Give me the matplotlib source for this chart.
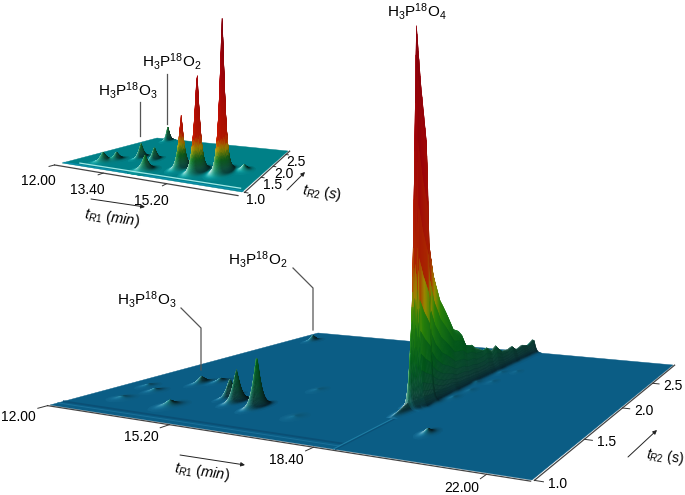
import numpy as np
import matplotlib
matplotlib.use('Agg')
import matplotlib.pyplot as plt
from matplotlib.collections import PolyCollection

plt.rcParams['font.family'] = ['Liberation Sans']
plt.rcParams['mathtext.fontset'] = 'custom'
plt.rcParams['mathtext.rm'] = 'Liberation Sans'
plt.rcParams['mathtext.it'] = 'Liberation Sans:italic'

# main plot peaks: tR1 (min), tR2 (s), height, width in tR1, width in tR2
main_t1 = [13.45, 12.64, 13.75, 14.90, 15.32, 15.97, 14.28, 13.05, 12.56, 12.90, 16.24, 17.14, 20.02,
           19.10, 19.25, 19.05, 19.30, 19.12, 19.40, 19.20, 19.50]
main_t2 = [1.59, 2.71, 1.65, 1.44, 1.38, 1.35, 1.21, 1.38, 1.44, 1.22, 1.71, 1.29, 1.32,
           1.75, 1.85, 1.95, 2.00, 2.15, 2.20, 2.40, 2.45]
main_h = [7, 6, 4, 19, 33, 52, 6, 3, 2, 2, 1, 1, 5, 1.5, 1, 1.5, 0.8, 1, 0.7, 0.8, 0.6]
main_s1 = [.07, .07, .07, .045, .06, .06, .11, .09, .09, .13, .11, .13, .07,
           .08, .08, .08, .08, .08, .08, .08, .08]
main_s2 = [.035, .035, .035, .03, .03, .03, .035, .03, .03, .03, .04, .04, .03,
           .04, .04, .04, .04, .04, .04, .04, .04]

tail_t2 = [1.45, 1.58, 1.62, 1.65, 1.69, 1.74, 1.76, 1.80, 1.86, 1.90, 1.99, 2.08, 2.12, 2.18,
           2.22, 2.30, 2.34, 2.40, 2.45, 2.52, 2.59, 2.65, 2.70, 2.78, 2.85, 2.92, 2.95]
tail_h = [1, 8, 120, 392, 330, 272, 168, 133, 102, 90, 62, 51, 41, 37,
          31, 27, 28, 21, 25, 17, 15, 17, 12, 13, 11, 14, 12]
tail_pos_t2 = [1.6, 2.0, 2.95]
tail_pos_t1 = [18.89, 18.90, 18.98]

# inset peaks
inset_t1 = [15.92, 15.40, 14.90, 12.68, 13.41, 13.86, 14.24, 12.98, 12.83, 16.32]
inset_t2 = [1.50, 1.38, 1.44, 2.75, 1.62, 1.61, 1.19, 1.40, 1.25, 1.68]
inset_h = [158, 100, 53, 15, 15, 13, 15, 8, 10, 6]
inset_s1 = [.065, .065, .06, .05, .045, .05, .09, .07, .09, .08]
inset_s2 = [.07, .07, .065, .06, .06, .06, .06, .06, .06, .06]

# where the ticks sit on each axis, and what they say
main_t1_ticks = [12.00, 15.31, 18.63, 21.95]
main_t1_labels = ['12.00', '15.20', '18.40', '22.00']
inset_t1_ticks = [12.00, 13.56, 15.25]
inset_t1_labels = ['12.00', '13.40', '15.20']
main_t2_ticks = [1.0, 1.5, 2.0, 2.5]
inset_t2_ticks = [1.0, 1.5, 1.98, 2.66]
t2_labels = ['1.0', '1.5', '2.0', '2.5']

# colour against height for each plot
main_levels = [0, 1.5, 5, 18, 40, 85, 108, 135, 250, 395]
main_colors = [(11, 93, 133), (20, 105, 135), (30, 135, 135), (15, 150, 100), (0, 150, 45),
               (50, 160, 10), (185, 165, 0), (205, 45, 0), (190, 5, 10), (150, 0, 15)]
inset_levels = [0, 2, 6, 14, 24, 35, 90, 150]
inset_colors = [(0, 128, 135), (20, 150, 140), (35, 165, 120), (20, 150, 45), (190, 170, 0),
                (210, 25, 0), (190, 5, 10), (150, 0, 15)]


def fit_h(corners):
    src = [(0, 0), (1, 0), (1, 1), (0, 1)]
    A = []
    b = []
    for (u, v), (x, y) in zip(src, corners):
        A.append([u, v, 1, 0, 0, 0, -u * x, -v * x])
        b.append(x)
        A.append([0, 0, 0, u, v, 1, -u * y, -v * y])
        b.append(y)
    return np.append(np.linalg.solve(np.array(A, float), np.array(b, float)), 1).reshape(3, 3)


class Plate:
    def __init__(self, corners, t1_lim, t2_lim):
        self.H = fit_h(corners)
        self.t1_lim = t1_lim
        self.t2_lim = t2_lim

    def project(self, t1, t2, z=0):
        u = (np.asarray(t1, float) - self.t1_lim[0]) / (self.t1_lim[1] - self.t1_lim[0])
        v = (np.asarray(t2, float) - self.t2_lim[0]) / (self.t2_lim[1] - self.t2_lim[0])
        H = self.H
        w = H[2, 0] * u + H[2, 1] * v + 1
        x = (H[0, 0] * u + H[0, 1] * v + H[0, 2]) / w
        y = (H[1, 0] * u + H[1, 1] * v + H[1, 2]) / w
        return x, y - z


def peak_surface(T1, T2, t1, t2, h, s1, s2, p=1.3):
    Z = np.zeros_like(T1)
    for c1, c2, a, w1, w2 in zip(t1, t2, h, s1, s2):
        r = np.sqrt(((T1 - c1) / w1) ** 2 + ((T2 - c2) / w2) ** 2)
        Z += a * np.exp(-r ** p)
    return Z


def draw_surface(ax, plate, T1, T2, Z, levels, colors, px1, px2, spec_fade, lift, zorder=3):
    X, Y = plate.project(T1, T2)
    Y_top = Y - Z
    d1 = (Z[1:, :-1] - Z[:-1, :-1] + Z[1:, 1:] - Z[:-1, 1:]) / 2 / ((T1[1, 0] - T1[0, 0]) * px1)
    d2 = (Z[:-1, 1:] - Z[:-1, :-1] + Z[1:, 1:] - Z[1:, :-1]) / 2 / ((T2[0, 1] - T2[0, 0]) * px2)
    zc = (Z[1:, 1:] + Z[:-1, :-1] + Z[1:, :-1] + Z[:-1, 1:]) / 4
    keep = np.maximum.reduce([Z[1:, 1:], Z[:-1, :-1], Z[1:, :-1], Z[:-1, 1:]]) > 0.12

    norm = np.sqrt(d1 ** 2 + d2 ** 2 + 1)
    n1, n2, n3 = -d1 / norm, -d2 / norm, 1 / norm
    key = np.clip(-0.65 * n1 - 0.35 * n2 + 0.67 * n3, 0, None)
    fill = np.clip(0.70 * n1 - 0.55 * n2 + 0.45 * n3, 0, None)
    shade = (0.15 + 0.85 * key / 0.67 + 0.3 * fill) / (1 + 0.3 * 0.45)
    shade = shade + np.clip(1 - shade, 0, None) * np.clip(zc / lift, 0, 1) * 0.75
    spec = np.clip(-0.88 * n1 - 0.42 * n2 + 0.22 * n3, 0, None) ** 3
    spec = spec * np.clip(1.2 * (1 - zc / spec_fade), 0, 1) * 0.95

    cols = np.array(colors, float) / 255
    rgb = np.stack([np.interp(zc, levels, cols[:, k]) for k in range(3)], axis=-1)
    rgb = np.clip(rgb * shade[..., None], 0, 1)
    rgb = rgb + (1 - rgb) * spec[..., None]

    quads = np.stack([
        np.stack([X[:-1, :-1], Y_top[:-1, :-1]], -1),
        np.stack([X[1:, :-1], Y_top[1:, :-1]], -1),
        np.stack([X[1:, 1:], Y_top[1:, 1:]], -1),
        np.stack([X[:-1, 1:], Y_top[:-1, 1:]], -1)], axis=2)
    depth = ((Y[:-1, :-1] + Y[1:, 1:]) / 2)[keep]
    order = np.argsort(depth)
    pc = PolyCollection(quads[keep][order], facecolors=np.clip(rgb[keep][order], 0, 1),
                        edgecolors='face', linewidths=0.25, zorder=zorder)
    ax.add_collection(pc)


def draw_axes(ax, plate, t1_ticks, t1_labels, t2_ticks, gap1, gap2, tick1, tick2, off1, off2, fs):
    t1a, t1b = plate.t1_lim
    t2a, t2b = plate.t2_lim
    x, y = plate.project([t1a, t1b], [t2a - gap2, t2a - gap2])
    xr, yr = plate.project([t1b + gap1, t1b + gap1], [t2a, t2b])
    ax.plot(x, y, color='#444444', lw=0.9, zorder=6)
    ax.plot(xr, yr, color='#444444', lw=0.9, zorder=6)
    for t, lab in zip(t1_ticks, t1_labels):
        xt, yt = plate.project([t, t], [t2a - gap2, t2a - tick2])
        ax.plot(xt, yt, color='#333333', lw=0.7, zorder=6)
        ax.text(xt[1] + off1[0], yt[1] + off1[1], lab, fontsize=fs, ha='center', va='center')
    for t, lab in zip(t2_ticks, t2_labels):
        xt, yt = plate.project([t1b + gap1, t1b + tick1], [t, t])
        ax.plot(xt, yt, color='#333333', lw=0.7, zorder=6)
        ax.text(xt[1] + off2[0], yt[1] + off2[1], lab, fontsize=fs, ha='center', va='center')


def arrow(ax, start, end):
    ax.annotate('', xy=end, xytext=start,
                arrowprops=dict(arrowstyle='-|>', lw=0.7, color='#222222', mutation_scale=6,
                                shrinkA=0, shrinkB=0))


fig = plt.figure(figsize=(6.85, 4.95), dpi=100)
ax = fig.add_axes([0, 0, 1, 1])
ax.set_xlim(0, 685)
ax.set_ylim(495, 0)
ax.axis('off')

# main plot
main = Plate([(50, 405), (532, 480), (673, 365), (318, 333)], (12, 22.7), (1, 2.95))
t1 = np.linspace(12, 22.7, 700)
t2 = np.linspace(1, 2.95, 360)
T1, T2 = np.meshgrid(t1, t2, indexing='ij')
Z = peak_surface(T1, T2, main_t1, main_t2, main_h, main_s1, main_s2)
ridge = np.interp(T2, tail_pos_t2, tail_pos_t1)
Z += np.interp(T2, tail_t2, tail_h, left=0) * np.exp(-(np.abs(T1 - ridge) / 0.06) ** 1.25)

cx, cy = main.project([12, 22.7, 22.7, 12], [1, 1, 2.95, 2.95])
ax.fill(cx, cy, color=np.array(main_colors[0]) / 255, lw=0.3, zorder=1)
bx, by = main.project([12, 19.0], [1.07, 1.07])
ax.plot(bx, by, color='#0a4f75', lw=1.3, zorder=2)
bx, by = main.project([12, 19.0], [1.04, 1.04])
ax.plot(bx, by, color='#1a6f98', lw=0.7, zorder=2)
bx, by = main.project([19.0, 18.9], [1.0, 1.6])
ax.plot(bx, by, color='#1f7da3', lw=0.8, zorder=2)
bx, by = main.project([19.05, 18.95], [1.0, 1.6])
ax.plot(bx, by, color='#0a4f75', lw=0.7, zorder=2)
draw_surface(ax, main, T1, T2, Z, main_levels, main_colors, 45, 93, 90, 90)
draw_axes(ax, main, main_t1_ticks, main_t1_labels, main_t2_ticks, 0.04, 0.012, 0.19, 0.06, (-19, 9), (14, 2), 10)

# inset
inset = Plate([(62, 163), (242, 192), (288, 151), (157, 138)], (12, 16.8), (1, 2.9))
t1 = np.linspace(12, 16.8, 400)
t2 = np.linspace(1, 2.9, 200)
T1, T2 = np.meshgrid(t1, t2, indexing='ij')
Z = peak_surface(T1, T2, inset_t1, inset_t2, inset_h, inset_s1, inset_s2, p=1.25)

cx, cy = inset.project([12, 16.8, 16.8, 12], [1, 1, 2.9, 2.9])
ax.fill(cx, cy, color=np.array(inset_colors[0]) / 255, lw=0.3, zorder=1)
bx, by = inset.project([12.4, 16.7], [1.09, 1.09])
ax.plot(bx, by, color='#9fe8e6', lw=0.9, zorder=4)
bx, by = inset.project([12.0, 16.8], [1.03, 1.03])
ax.plot(bx, by, color='#0c8fb0', lw=0.8, zorder=2)
draw_surface(ax, inset, T1, T2, Z, inset_levels, inset_colors, 37, 32, 30, 30)
draw_axes(ax, inset, inset_t1_ticks, inset_t1_labels, inset_t2_ticks, 0.05, 0.10, 0.12, 0.17, (-11, 15), (8, 7), 10)

# leader lines and peak labels
label_fs = 11
gray = '#555555'
ax.plot([181, 201, 201], [308, 328, 370], color=gray, lw=0.9, zorder=7)
ax.plot([293, 313, 313], [268, 288, 330], color=gray, lw=0.9, zorder=7)
ax.plot([140, 140], [102, 136], color=gray, lw=0.9, zorder=7)
ax.plot([167, 167], [74, 124], color=gray, lw=0.9, zorder=7)
ax.text(417, 11, r'H$_3$P$^{18}$O$_4$', fontsize=label_fs, ha='center', va='center')
ax.text(147, 299, r'H$_3$P$^{18}$O$_3$', fontsize=label_fs, ha='center', va='center')
ax.text(258, 259, r'H$_3$P$^{18}$O$_2$', fontsize=label_fs, ha='center', va='center')
ax.text(128, 90, r'H$_3$P$^{18}$O$_3$', fontsize=label_fs, ha='center', va='center')
ax.text(172, 61, r'H$_3$P$^{18}$O$_2$', fontsize=label_fs, ha='center', va='center')

# axis titles and arrows
ax.text(202, 472, r'$t_{R1}$ $\mathit{(min)}$', fontsize=10.5, ha='center', va='center', rotation=-8)
ax.text(665, 457, r'$t_{R2}$ (s)', fontsize=10, ha='center', va='center', rotation=-8)
ax.text(112, 218, r'$t_{R1}$ $\mathit{(min)}$', fontsize=10.5, ha='center', va='center', rotation=-8)
ax.text(322, 193, r'$t_{R2}$ $\mathit{(s)}$', fontsize=10.5, ha='center', va='center', rotation=-8)
arrow(ax, (180, 455), (245, 465))
arrow(ax, (628, 457), (657, 430))
arrow(ax, (91, 199), (145, 207))
arrow(ax, (287, 190), (305, 172))

fig.savefig('out.png', dpi=100)
